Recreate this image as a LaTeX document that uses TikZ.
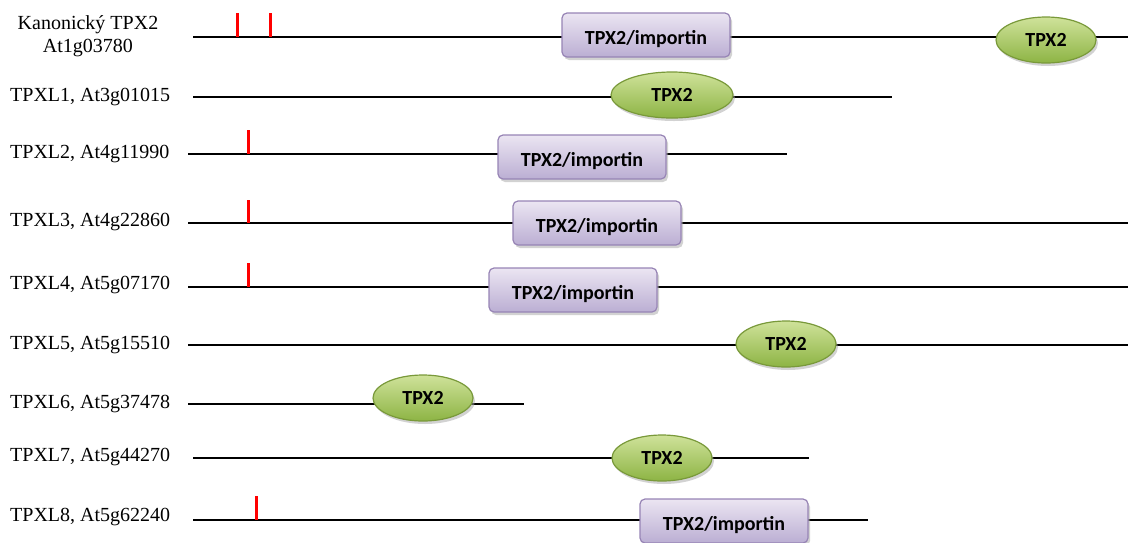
\documentclass[tikz,border=0pt]{standalone}
\usepackage{fontspec}
\setmainfont{Liberation Serif}
\newfontfamily\domfont{Carlito}
\usepackage{xcolor}
\usepackage{tikz}
\usetikzlibrary{shapes.geometric,shadows}

\definecolor{impline}{HTML}{9784B5}
\definecolor{imptop}{HTML}{EBE5F2}
\definecolor{impbot}{HTML}{BBAED3}
\definecolor{tpxline}{HTML}{79993A}
\definecolor{tpxtop}{HTML}{CFE29A}
\definecolor{tpxbot}{HTML}{8DB444}

\begin{document}
\begin{tikzpicture}[
    x=1pt, y=-1pt,
    lab/.style={anchor=west, font=\fontsize{20}{23}\selectfont, inner sep=0pt},
    imp/.style={rectangle, draw=impline, line width=1.2pt, rounded corners=5pt, top color=imptop, bottom color=impbot, minimum width=168pt, minimum height=44pt, inner sep=0pt, text height=18pt, text depth=0pt, font=\domfont\bfseries\fontsize{20}{23}\selectfont, drop shadow={shadow xshift=2pt, shadow yshift=-3pt, fill=black!35}},
    tpx/.style={ellipse, draw=tpxline, line width=1.2pt, top color=tpxtop, bottom color=tpxbot, minimum width=100pt, minimum height=46pt, inner sep=0pt, font=\domfont\bfseries\fontsize{20}{23}\selectfont, drop shadow={shadow xshift=2pt, shadow yshift=-3pt, fill=black!35}},
    prot/.style={line width=2pt, black},
    redmark/.style={line width=3pt, red}
]
    \useasboundingbox (0,0) rectangle (1128,542);

    % labels
    \node [lab, anchor=center, align=center] (l0) at (88,36) {Kanonický TPX2\\At1g03780};
    \node [lab] (l1) at (10,97) {TPXL1, At3g01015};
    \node [lab] (l2) at (10,154) {TPXL2, At4g11990};
    \node [lab] (l3) at (10,222) {TPXL3, At4g22860};
    \node [lab] (l4) at (10,285) {TPXL4, At5g07170};
    \node [lab] (l5) at (10,345) {TPXL5, At5g15510};
    \node [lab] (l6) at (10,404) {TPXL6, At5g37478};
    \node [lab] (l7) at (10,457) {TPXL7, At5g44270};
    \node [lab] (l8) at (10,517) {TPXL8, At5g62240};

    % protein lines
    \coordinate (a0) at (193,37);  \coordinate (b0) at (1128,37);
    \coordinate (a1) at (193,97);  \coordinate (b1) at (892,97);
    \coordinate (a2) at (188,154); \coordinate (b2) at (787,154);
    \coordinate (a3) at (188,223); \coordinate (b3) at (1128,223);
    \coordinate (a4) at (188,287); \coordinate (b4) at (1128,287);
    \coordinate (a5) at (188,345); \coordinate (b5) at (1128,345);
    \coordinate (a6) at (188,404); \coordinate (b6) at (524,404);
    \coordinate (a7) at (193,458); \coordinate (b7) at (809,458);
    \coordinate (a8) at (193,520); \coordinate (b8) at (868,520);
    \draw [prot] (a0) -- (b0);
    \draw [prot] (a1) -- (b1);
    \draw [prot] (a2) -- (b2);
    \draw [prot] (a3) -- (b3);
    \draw [prot] (a4) -- (b4);
    \draw [prot] (a5) -- (b5);
    \draw [prot] (a6) -- (b6);
    \draw [prot] (a7) -- (b7);
    \draw [prot] (a8) -- (b8);

    % red marks
    \coordinate (m0a) at (237,13); \coordinate (n0a) at (237,37);
    \coordinate (m0b) at (270,13); \coordinate (n0b) at (270,37);
    \coordinate (m2) at (248,130); \coordinate (n2) at (248,154);
    \coordinate (m3) at (248,200); \coordinate (n3) at (248,223);
    \coordinate (m4) at (248,263); \coordinate (n4) at (248,287);
    \coordinate (m8) at (256,496); \coordinate (n8) at (256,520);
    \draw [redmark] (m0a) -- (n0a);
    \draw [redmark] (m0b) -- (n0b);
    \draw [redmark] (m2) -- (n2);
    \draw [redmark] (m3) -- (n3);
    \draw [redmark] (m4) -- (n4);
    \draw [redmark] (m8) -- (n8);

    % domains
    \node [imp] (d0a) at (646,35) {TPX2/importin};
    \node [tpx] (d0b) at (1046,40) {TPX2};
    \node [tpx, minimum width=122pt] (d1) at (672,95) {TPX2};
    \node [imp] (d2) at (582,157) {TPX2/importin};
    \node [imp] (d3) at (597,223) {TPX2/importin};
    \node [imp] (d4) at (573,290) {TPX2/importin};
    \node [tpx] (d5) at (786,344) {TPX2};
    \node [tpx] (d6) at (423,398) {TPX2};
    \node [tpx] (d7) at (662,458) {TPX2};
    \node [imp] (d8) at (724,521) {TPX2/importin};
\end{tikzpicture}
\end{document}
